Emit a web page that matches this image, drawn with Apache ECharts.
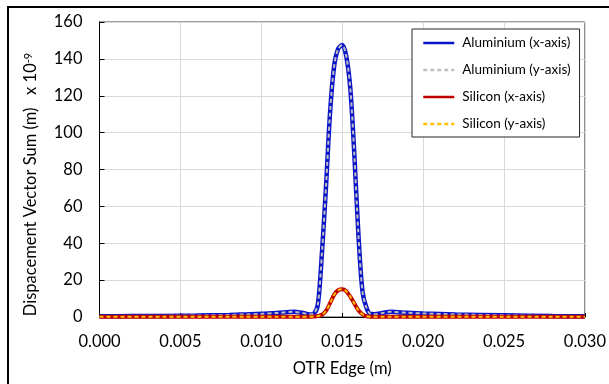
<!DOCTYPE html>
<html>
<head>
<meta charset="utf-8">
<script src="https://cdn.jsdelivr.net/npm/echarts@6/dist/echarts.min.js"></script>
<style>
  html, body { margin: 0; padding: 0; background: #fff; }
  #chart { width: 609px; height: 384px; }
</style>
</head>
<body>
<div id="chart"></div>
<script>
// OTR edge positions (m)
const edge = [0, 0.002, 0.004, 0.006, 0.008, 0.009, 0.010, 0.011, 0.012, 0.0125, 0.013, 0.01325,
  0.0135, 0.01375, 0.014, 0.01425, 0.0145, 0.01475, 0.015, 0.01525, 0.0155, 0.01575, 0.016,
  0.01625, 0.0165, 0.01675, 0.017, 0.0175, 0.018, 0.019, 0.020, 0.022, 0.025, 0.028, 0.030];

// displacement vector sum, x 10^-9 m
const aluminiumX = [0.4, 0.5, 0.6, 0.8, 1.1, 1.4, 1.7, 2.2, 2.8, 2.3, 1.4, 1.8,
  7, 35, 71, 111, 136, 145.5, 147.5, 141.5, 124, 88, 45,
  14, 5, 1.6, 1.5, 2.2, 2.8, 2.3, 1.9, 1.4, 0.9, 0.5, 0.4];
const aluminiumY = [0.4, 0.5, 0.6, 0.8, 1.1, 1.4, 1.7, 2.2, 2.8, 2.3, 1.4, 1.8,
  7, 35, 71, 111, 136, 145.5, 147.5, 141.5, 124, 88, 45,
  14, 5, 1.6, 1.5, 2.2, 2.8, 2.3, 1.9, 1.4, 0.9, 0.5, 0.4];
const siliconX = [0.2, 0.2, 0.2, 0.2, 0.2, 0.2, 0.2, 0.2, 0.2, 0.2, 0.2, 0.3,
  0.5, 1.2, 3.3, 7.5, 12, 14.5, 15, 14, 11, 7.3, 3.7,
  1.5, 0.4, 0.2, 0.2, 0.2, 0.2, 0.2, 0.2, 0.2, 0.2, 0.2, 0.2];
const siliconY = [0.2, 0.2, 0.2, 0.2, 0.2, 0.2, 0.2, 0.2, 0.2, 0.2, 0.2, 0.3,
  0.5, 1.2, 3.3, 7.5, 12, 14.5, 15, 14, 11, 7.3, 3.7,
  1.5, 0.4, 0.2, 0.2, 0.2, 0.2, 0.2, 0.2, 0.2, 0.2, 0.2, 0.2];

const FONT = "Lato, 'Open Sans', sans-serif";

const pairs = (ys) => edge.map((x, i) => [x, ys[i]]);

const lineSeries = (name, ys, color, width, dashed, z) => ({
  name,
  type: "line",
  data: pairs(ys),
  symbol: "none",
  smooth: 0.3,
  lineStyle: { color, width, type: dashed ? [4, 3] : "solid" },
  itemStyle: { color },
  z,
});

const chart = echarts.init(document.getElementById("chart"));
chart.setOption({
  animation: false,
  backgroundColor: "#fff",
  textStyle: { fontFamily: FONT },
  graphic: [{
    type: "rect",
    shape: { x: 8, y: 7, width: 800, height: 600 },
    style: { fill: "none", stroke: "#000", lineWidth: 2 },
    silent: true,
  }],
  grid: {
    left: 99.5, right: 24, top: 22, bottom: 67,
    show: true, borderColor: "#404040", borderWidth: 1, backgroundColor: "#fff",
  },
  legend: {
    orient: "vertical",
    left: 412, top: 29,
    padding: [7, 9, 6, 10],
    itemWidth: 31, itemHeight: 14, itemGap: 13,
    borderColor: "#262626", borderWidth: 1,
    backgroundColor: "#fff",
    itemStyle: { opacity: 0 },
    lineStyle: { width: 2.5 },
    textStyle: { fontSize: 13.5, color: "#000", fontFamily: FONT, padding: [0, 0, 0, 3] },
    data: ["Aluminium (x-axis)", "Aluminium (y-axis)", "Silicon (x-axis)", "Silicon (y-axis)"],
  },
  xAxis: {
    type: "value",
    min: 0, max: 0.03, interval: 0.005,
    name: "OTR Edge (m)",
    nameLocation: "middle",
    nameGap: 43,
    nameTextStyle: { fontSize: 16.5, color: "#000", fontFamily: FONT },
    axisLine: { lineStyle: { color: "#000", width: 1 } },
    axisTick: { inside: true, length: 4, lineStyle: { color: "#000" } },
    axisLabel: { fontSize: 16.5, color: "#000", margin: 16, formatter: (v) => v.toFixed(3) },
    splitLine: { lineStyle: { color: "#d9d9d9", width: 1 } },
  },
  yAxis: {
    type: "value",
    min: 0, max: 160, interval: 20,
    name: "{a|Dispacement Vector Sum (m)   x 10}{b|-9}",
    nameLocation: "middle",
    nameGap: 60,
    nameTextStyle: {
      color: "#000",
      padding: [0, 30, 0, 0],
      rich: {
        a: { fontSize: 16.5, color: "#000", fontFamily: FONT },
        b: { fontSize: 11, color: "#000", fontFamily: FONT, verticalAlign: "top" },
      },
    },
    axisLine: { show: true, lineStyle: { color: "#000", width: 1 } },
    axisTick: { show: true, inside: true, length: 5, lineStyle: { color: "#000" } },
    axisLabel: { fontSize: 16.5, color: "#000", margin: 17 },
    splitLine: { lineStyle: { color: "#d9d9d9", width: 1 } },
  },
  series: [
    lineSeries("Aluminium (x-axis)", aluminiumX, "#0a14c8", 4.5, false, 2),
    lineSeries("Aluminium (y-axis)", aluminiumY, "#bfbfbf", 2, true, 3),
    lineSeries("Silicon (x-axis)", siliconX, "#c00000", 4, false, 4),
    lineSeries("Silicon (y-axis)", siliconY, "#ffc000", 2, true, 5),
  ],
});
</script>
</body>
</html>
